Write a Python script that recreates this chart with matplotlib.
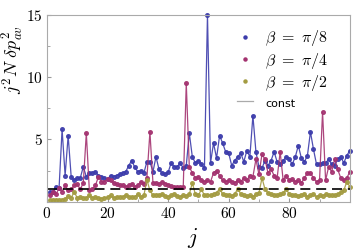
import numpy as np
import matplotlib
matplotlib.use("Agg")
import matplotlib.pyplot as plt
from matplotlib.lines import Line2D
from matplotlib.ticker import MultipleLocator

plt.rcParams['mathtext.fontset'] = 'cm'
plt.rcParams['font.family'] = 'serif'
plt.rcParams['font.serif'] = ['cmr10', 'DejaVu Serif']
plt.rcParams['axes.formatter.use_mathtext'] = True

# data
j = np.arange(1, 101)

beta_pi8 = [0.8, 0.8, 1.2, 1.1, 5.8, 2.1, 5.3, 2.0, 1.7, 1.9,
            1.9, 2.8, 2.0, 2.3, 2.3, 2.4, 2.1, 2.0, 1.9, 1.8,
            2.1, 2.0, 2.1, 2.2, 2.3, 2.4, 2.9, 3.3, 2.75, 2.4,
            2.5, 2.3, 3.2, 3.2, 2.4, 3.6, 2.6, 2.3, 2.2, 2.35,
            3.1, 2.8, 2.8, 3.1, 2.7, 2.9, 5.5, 3.6, 3.1, 3.3,
            3.0, 2.7, 15.0, 3.1, 4.7, 3.5, 5.3, 4.7, 4.0, 3.9,
            2.9, 3.3, 3.6, 3.9, 3.2, 4.1, 3.6, 6.9, 4.0, 2.8,
            2.7, 3.3, 2.9, 3.3, 4.0, 3.2, 3.0, 3.3, 3.6, 3.4,
            3.0, 3.6, 4.5, 3.5, 3.2, 3.7, 5.6, 4.2, 3.0, 3.0,
            3.1, 3.1, 3.4, 3.0, 2.9, 3.4, 3.6, 3.1, 3.7, 4.1]

beta_pi4 = [0.5, 0.8, 0.6, 1.1, 0.8, 1.3, 0.9, 1.0, 1.3, 1.4,
            1.0, 1.5, 5.5, 0.9, 1.0, 1.3, 2.0, 1.6, 1.6, 1.8,
            1.7, 1.5, 1.4, 1.3, 1.3, 1.2, 1.3, 1.45, 1.2, 1.3,
            1.6, 1.4, 1.9, 5.6, 1.5, 1.5, 1.4, 1.6, 1.45, 1.35,
            1.25, 1.2, 1.2, 1.15, 1.2, 9.5, 2.8, 2.3, 1.9, 2.0,
            1.7, 1.6, 1.7, 1.6, 2.3, 2.5, 2.1, 1.7, 1.6, 1.7,
            1.6, 1.5, 1.7, 1.6, 1.9, 1.7, 2.1, 2.0, 3.4, 2.2,
            3.8, 3.4, 2.3, 2.6, 2.1, 1.9, 4.0, 1.7, 2.1, 1.7,
            1.8, 1.6, 1.7, 1.5, 1.9, 2.3, 2.3, 1.9, 1.6, 1.7,
            7.2, 1.7, 2.8, 2.4, 3.4, 2.6, 1.9, 1.7, 1.9, 2.4]

beta_pi2 = [0.15, 0.1, 0.15, 0.1, 0.15, 0.2, 0.45, 0.3, 0.8, 0.3,
            0.35, 0.3, 0.3, 0.5, 0.3, 0.35, 0.3, 0.25, 0.3, 0.35,
            0.5, 0.3, 0.35, 0.4, 0.35, 0.55, 0.4, 0.35, 0.4, 0.6,
            0.35, 0.5, 1.75, 0.9, 0.5, 0.55, 0.5, 0.6, 0.45, 0.4,
            0.5, 0.6, 0.45, 0.4, 0.5, 0.45, 0.6, 1.5, 0.6, 0.5,
            1.0, 0.5, 0.55, 0.5, 0.6, 0.7, 1.05, 0.6, 0.5, 0.5,
            0.45, 0.6, 1.05, 0.6, 0.5, 0.45, 0.5, 0.4, 0.6, 0.7,
            1.9, 1.0, 0.7, 0.6, 0.55, 0.5, 0.6, 0.7, 1.0, 0.6,
            0.5, 0.5, 0.45, 0.55, 0.6, 0.4, 0.5, 0.6, 0.4, 0.5,
            0.45, 0.6, 0.5, 0.55, 0.5, 0.6, 0.75, 0.9, 1.6, 1.2]

const_level = 1.0

labels = [r'$\beta\ =\ \pi/8$', r'$\beta\ =\ \pi/4$', r'$\beta\ =\ \pi/2$', 'const']
colors = ['#3c3cab', '#a3326f', '#a39b41']

fig = plt.figure(figsize=(3.53, 2.49), dpi=100)
ax = fig.add_axes([0.133, 0.19, 0.858, 0.751])

for ys, c in zip([beta_pi8, beta_pi4, beta_pi2], colors):
    ax.plot(j, ys, color=c, lw=0.9, marker='o', ms=2.6, alpha=0.9, clip_on=False)

ax.axhline(const_level, color='black', lw=1.2, ls=(0, (6, 3.5)))

ax.set_xlim(0, 100)
ax.set_ylim(0, 15)
ax.set_xticks([0, 20, 40, 60, 80])
ax.xaxis.set_minor_locator(MultipleLocator(10))
ax.set_yticks([5, 10, 15])
ax.yaxis.set_minor_locator(MultipleLocator(2.5))
ax.tick_params(which='both', direction='in', color='#999999', labelsize=11, pad=3)
ax.tick_params(which='major', length=3)
ax.tick_params(which='minor', length=2)
for s in ax.spines.values():
    s.set_color('#aaaaaa')
    s.set_linewidth(0.8)

ax.set_xlabel(r'$j$', fontsize=16)
ax.xaxis.set_label_coords(0.48, -0.13)
ax.set_ylabel(r'$j^2 N\ \delta p^2_{av}$', fontsize=13)
ax.yaxis.set_label_coords(-0.07, 0.76)

handles = [Line2D([], [], color=c, marker='o', ms=2.2, ls='none') for c in colors]
handles.append(Line2D([], [], color='#aaaaaa', lw=0.9))
leg = ax.legend(handles, labels, loc='upper left', bbox_to_anchor=(0.6, 0.97),
                frameon=False, fontsize=11.5, handlelength=1.0, handletextpad=0.8,
                labelspacing=0.15, borderpad=0)
leg.get_texts()[3].set_family('DejaVu Sans')
leg.get_texts()[3].set_fontsize(8)

fig.savefig('out.png', dpi=100)
